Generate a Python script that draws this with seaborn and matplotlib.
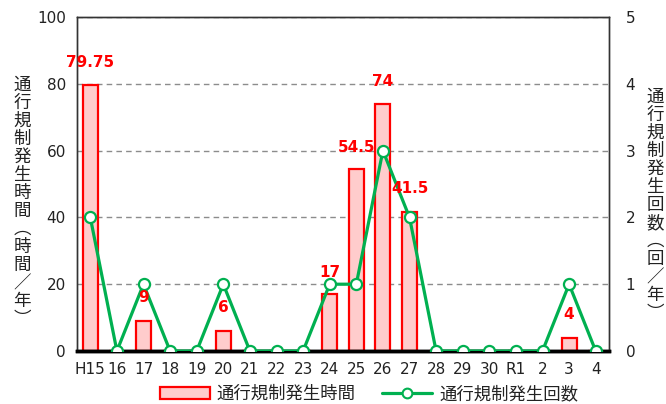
import pandas as pd
import matplotlib.pyplot as plt
import seaborn as sns
import numpy as np
from matplotlib.lines import Line2D
from matplotlib.patches import Patch

sns.set_style("white")
plt.rcParams['font.family'] = ['DejaVu Sans', 'Noto Sans CJK JP']

years = ["H15", "16", "17", "18", "19", "20", "21", "22", "23", "24",
         "25", "26", "27", "28", "29", "30", "R1", "2", "3", "4"]
hours = [79.75, 0, 9, 0, 0, 6, 0, 0, 0, 17, 54.5, 74, 41.5, 0, 0, 0, 0, 0, 4, 0]
counts = [2, 0, 1, 0, 0, 1, 0, 0, 0, 1, 1, 3, 2, 0, 0, 0, 0, 0, 1, 0]

# value labels: text and where its centre sits (left-axis units)
label_text = ["79.75", "9", "6", "17", "54.5", "74", "41.5", "4"]
label_year = ["H15", "17", "20", "24", "25", "26", "27", "3"]
label_y = [86.5, 16.0, 12.9, 23.6, 61, 80.8, 48.8, 10.8]

left_label = "通行規制発生時間（時間／年）"
right_label = "通行規制発生回数（回／年）"

df = pd.DataFrame({"year": years, "hours": hours, "counts": counts, "pos": range(len(years))})

fig = plt.figure(figsize=(6.66, 4.04), dpi=100)
ax = fig.add_axes([77/666, 53/404, 532/666, 334/404])

sns.barplot(data=df, x="year", y="hours", order=years, ax=ax, width=0.56,
            color="#FFCCCC", edgecolor="#FF0000", linewidth=1.6, saturation=1)
ax.set_ylim(0, 100)
ax.set_xlim(-0.5, len(years) - 0.5)
ax.set_yticks(range(0, 101, 20))
ax.yaxis.grid(True, linestyle=(0, (4, 3)), color="#8c8c8c", linewidth=1)
ax.set_axisbelow(True)
ax.set_xlabel("")
ax.set_ylabel("")
ax.tick_params(axis="both", length=0, labelsize=11, colors="#222222", pad=8)

ax2 = ax.twinx()
sns.lineplot(data=df, x="pos", y="counts", ax=ax2, color="#00B050", linewidth=2.3,
             marker="o", markersize=8, markerfacecolor="white",
             markeredgecolor="#00B050", markeredgewidth=1.6, zorder=5)
ax2.set_ylim(0, 5)
ax2.set_yticks(range(0, 6))
ax2.set_ylabel("")
ax2.set_xlabel("")
ax2.tick_params(axis="y", length=0, labelsize=11, colors="#222222", pad=12)
ax2.set_xlim(-0.5, len(years) - 0.5)
ax2.set_ylim(0, 5)

for a in (ax, ax2):
    for s in ["left", "right", "top"]:
        a.spines[s].set_color("#333333")
        a.spines[s].set_linewidth(1)
    a.spines["bottom"].set_color("black")
    a.spines["bottom"].set_linewidth(2.5)

# labels go on the twin axes so they sit above the line
for t, yr, yv in zip(label_text, label_year, label_y):
    ax2.text(years.index(yr), yv, t, transform=ax.transData, ha="center", va="center",
             color="#FF0000", fontsize=11, fontweight="bold", zorder=10)

def vertical(s):
    s = s.replace("（", "︵").replace("）", "︶")
    return "\n".join(s)

fig.text(22/666, 1 - 202/404, vertical(left_label), ha="center", va="center",
         fontsize=12.6, linespacing=1.0, color="#222222",
         family=["Noto Sans CJK JP", "DejaVu Sans"])
fig.text(655/666, 1 - 205/404, vertical(right_label), ha="center", va="center",
         fontsize=12.6, linespacing=1.0, color="#222222",
         family=["Noto Sans CJK JP", "DejaVu Sans"])

handles = [Patch(facecolor="#FFCCCC", edgecolor="#FF0000", linewidth=1.6),
           Line2D([], [], color="#00B050", linewidth=2.3, marker="o", markersize=7,
                  markerfacecolor="white", markeredgecolor="#00B050", markeredgewidth=1.5)]
leg = fig.legend(handles, ["通行規制発生時間", "通行規制発生回数"], loc="center",
                 bbox_to_anchor=(369/666, 1 - 394/404), ncol=2, frameon=False,
                 prop={"family": ["Noto Sans CJK JP"], "size": 12.5},
                 handlelength=2.9, handleheight=0.7, columnspacing=1.5, handletextpad=0.4)
for txt in leg.get_texts():
    txt.set_color("#222222")

fig.savefig("out.png", dpi=100)
